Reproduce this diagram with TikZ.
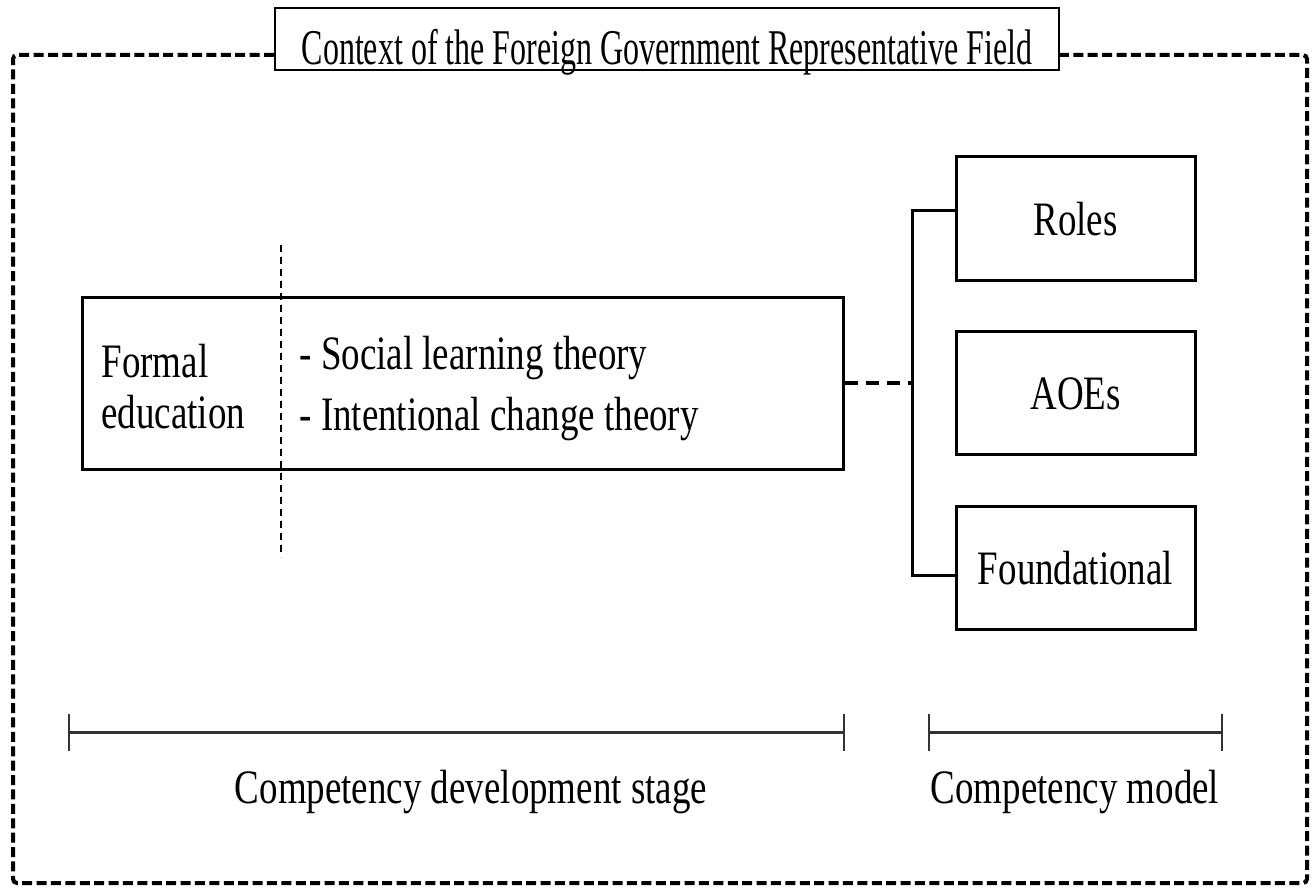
\documentclass[tikz,border=0pt]{standalone}
\usepackage{fontspec}
\setmainfont{Liberation Serif}
\newfontfamily\bodyfont[FakeStretch=0.77]{Liberation Serif}
\newfontfamily\titlefont[FakeStretch=0.64]{Liberation Serif}
\usetikzlibrary{arrows.meta}
\begin{document}
\begin{tikzpicture}[x=0.5pt, y=-0.5pt, line width=1.5pt,
  txt/.style={inner sep=0pt, font=\bodyfont\fontsize{24}{28}\selectfont},
  part/.style={draw, txt, minimum width=119.5pt, text height=39pt, text depth=22.5pt},
  scalebar/.style={black!80, {Bar[width=18.5pt, line width=0.8pt]}-{Bar[width=18.5pt, line width=0.8pt]}}]
\useasboundingbox (0,0) rectangle (1313,888);
% field and its frame
\node[draw, line width=1pt, inner sep=0pt, text height=28.5pt, text depth=2.5pt, minimum width=392pt, anchor=base, font=\titlefont\fontsize{25}{30}\selectfont] (title) at (667,65) {Context of the Foreign Government Representative Field};
\draw[line width=2pt, dash pattern=on 5pt off 2.2pt, rounded corners=2pt] (title.west |- 0,55) -- (13,55) -- (13,883) -- (1307,883) -- (1307,55) -- (title.east |- 0,55);
% development stage
\node[draw, inner sep=0pt, minimum width=380.5pt, minimum height=86pt] (main) at (462.5,383) {};
\draw[line width=0.7pt, dash pattern=on 3.5pt off 2.5pt] (281,245) -- (281,557);
\node[txt, anchor=base west] (formal) at (100,377) {Formal};
\node[txt, anchor=base west] (educ) at (100,428) {education};
\node[txt, anchor=base west] (social) at (298,369) {- Social learning theory};
\node[txt, anchor=base west] (intent) at (298,430) {- Intentional change theory};
% competency model
\node[part] (roles) at (1075.5,218.5) {Roles};
\node[part] (aoes) at (1075.5,392.5) {AOEs};
\node[part] (found) at (1075.5,567.5) {Foundational};
\coordinate (hub) at (912,385);
\draw[line width=1.8pt, dash pattern=on 6.5pt off 4pt] (main.east) -- (main.east -| hub);
\draw ([yshift=4pt]roles.west) -| (hub) |- ([yshift=-4pt]found.west);
% stage spans
\coordinate (dev_l) at (68,732);
\coordinate (dev_r) at (845,732);
\coordinate (mod_l) at (928,732);
\coordinate (mod_r) at (1223,732);
\draw[scalebar] (dev_l) -- (dev_r);
\draw[scalebar] (mod_l) -- (mod_r);
\node[txt, anchor=base] (devlabel) at (471,803) {Competency development stage};
\node[txt, anchor=base] (modlabel) at (1075,803) {Competency model};
\end{tikzpicture}
\end{document}
